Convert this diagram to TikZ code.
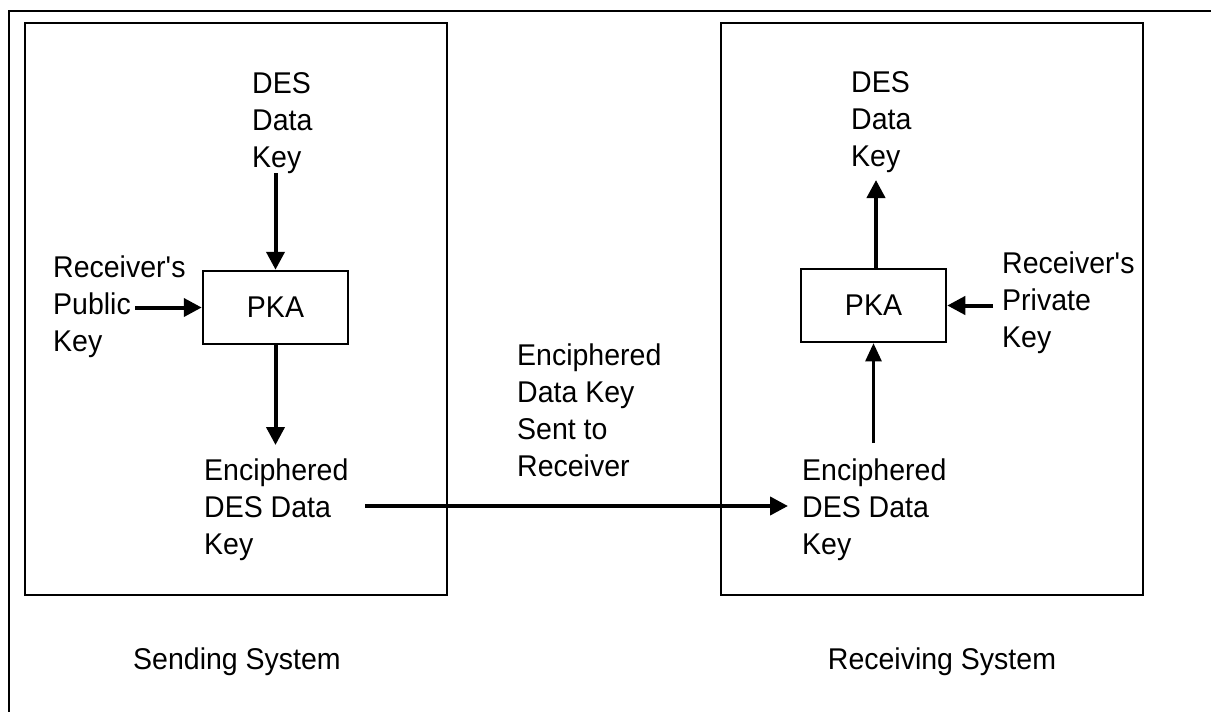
\documentclass[tikz,border=0pt]{standalone}
\usepackage{fontspec}
\setmainfont{Liberation Sans}[FakeStretch=0.95]
\usetikzlibrary{arrows.meta}
\newcommand\txtstack[1]{\vtop{\baselineskip=37pt\lineskiplimit=-100pt\halign{##\hfil\cr #1\crcr}}}
\begin{document}
\begin{tikzpicture}[x=1pt,y=-1pt,
  lbl/.style={inner sep=0pt,anchor=base west,font=\fontsize{30}{37}\selectfont},
  syslbl/.style={inner sep=0pt,font=\fontsize{30}{37}\selectfont},
  sysbox/.style={draw,line width=2pt,minimum width=422pt,minimum height=572pt,inner sep=0pt},
  pkabox/.style={draw,line width=2.5pt,minimum width=145pt,minimum height=73pt,inner sep=0pt,font=\fontsize{30}{37}\selectfont},
  thick arrow/.style={line width=4pt,-{Triangle[length=18pt,width=18pt]}},
  thin arrow/.style={line width=2.5pt,-{Triangle[length=18pt,width=16pt]}}]
\useasboundingbox (0,0) rectangle (1211,712);
% outer frame (only top and left edges fall inside the picture)
\draw[line width=1.8pt] (9,712) -- (9,11) -- (1211,11);
% system boxes
\node[sysbox] (send) at (236,309) {};
\node[sysbox] (recv) at (932,309) {};
% PKA boxes
\node[pkabox] (pkaL) at (275.5,307.5) {PKA};
\node[pkabox] (pkaR) at (873.5,305.5) {PKA};
% texts
\node[lbl] (sdes) at (252,93) {\txtstack{DES\cr Data\cr Key}};
\node[lbl] (spub) at (53,277) {\txtstack{Receiver\textquotesingle s\cr Public\cr Key}};
\node[lbl] (senc) at (204,480) {\txtstack{Enciphered\cr DES Data\cr Key}};
\node[lbl] (mid) at (517,365) {\txtstack{Enciphered\cr Data Key\cr Sent to\cr Receiver}};
\node[lbl] (rdes) at (851,92) {\txtstack{DES\cr Data\cr Key}};
\node[lbl] (rpriv) at (1002,273) {\txtstack{Receiver\textquotesingle s\cr Private\cr Key}};
\node[lbl] (renc) at (802,480) {\txtstack{Enciphered\cr DES Data\cr Key}};
\node[syslbl] (sendlbl) at (237,662) {Sending System};
\node[syslbl] (recvlbl) at (942,662) {Receiving System};
% free ends of connectors
\coordinate (pubend) at (135,307.5);
\coordinate (privend) at (993,305.5);
\coordinate (sentstart) at (365,506);
\coordinate (sentend) at (788,506);
\coordinate (rencstart) at (873.5,443);
\coordinate (sdesend) at (275.5,173);
\coordinate (sencend) at (275.5,445);
\coordinate (rdesend) at (876,180);
% connectors
\draw[thick arrow] (sdesend) -- (pkaL.north);
\draw[thick arrow] (pubend) -- (pkaL.west);
\draw[thick arrow] (pkaL.south) -- (sencend);
\draw[thick arrow] (sentstart) -- (sentend);
\draw[thick arrow] (pkaR.north -| rdesend) -- (rdesend);
\draw[thick arrow] (privend) -- (pkaR.east);
\draw[thin arrow] (rencstart) -- (pkaR.south);
\end{tikzpicture}
\end{document}
